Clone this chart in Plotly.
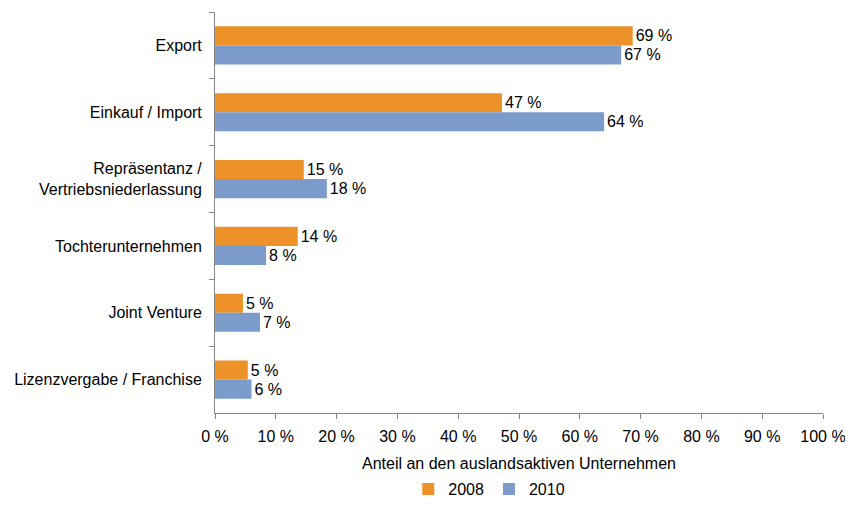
import plotly.graph_objects as go

categories = [
    "Export",
    "Einkauf / Import",
    "Repräsentanz /<br>Vertriebsniederlassung",
    "Tochterunternehmen",
    "Joint Venture",
    "Lizenzvergabe / Franchise",
]
values_2008 = [68.7, 47.2, 14.6, 13.6, 4.6, 5.4]
values_2010 = [66.8, 64.0, 18.4, 8.4, 7.4, 6.0]
x_ticks = list(range(0, 101, 10))

FONT = "Liberation Sans, Arial, sans-serif"
ORANGE = "#ED9228"
BLUE = "#7B9BCA"
AXIS_GREY = "#868686"

# page body has an 8px margin, so the figure is sized/placed to compensate
fig = go.Figure()
for name, vals, color in [("2008", values_2008, ORANGE), ("2010", values_2010, BLUE)]:
    fig.add_trace(
        go.Bar(
            name=name,
            y=categories,
            x=vals,
            orientation="h",
            marker={"color": color, "line": {"width": 0}},
            texttemplate="%{x:.0f} %",
            textposition="outside",
            textfont={"family": FONT, "size": 16, "color": "black"},
            constraintext="none",
            cliponaxis=False,
        )
    )

fig.update_layout(
    width=837,
    height=490,
    margin={"l": 207, "r": 22, "t": 4, "b": 85, "autoexpand": False},
    plot_bgcolor="white",
    paper_bgcolor="white",
    barmode="group",
    bargap=0.43,
    bargroupgap=0,
    font={"family": FONT, "size": 16, "color": "black"},
    legend={
        "orientation": "h",
        "x": 0.575,
        "xanchor": "center",
        "xref": "container",
        "y": 0.018,
        "yanchor": "middle",
        "yref": "container",
        "font": {"size": 16},
        "itemwidth": 30,
        "tracegroupgap": 0,
    },
    xaxis={
        "range": [0, 100],
        "tickvals": x_ticks,
        "ticktext": [f"{t} %" for t in x_ticks],
        "ticks": "outside",
        "ticklen": 5,
        "tickcolor": AXIS_GREY,
        "showline": True,
        "linecolor": AXIS_GREY,
        "linewidth": 1,
        "showgrid": False,
        "zeroline": False,
        "automargin": False,
        "ticklabeloverflow": "allow",
        "ticklabelstandoff": 4,
        "title": {"text": "Anteil an den auslandsaktiven Unternehmen", "standoff": 13, "font": {"size": 16}},
    },
    yaxis={
        "autorange": "reversed",
        "ticks": "outside",
        "tickson": "boundaries",
        "ticklen": 5,
        "tickcolor": AXIS_GREY,
        "showline": True,
        "linecolor": AXIS_GREY,
        "linewidth": 1,
        "showgrid": False,
        "automargin": False,
        "ticklabelstandoff": 9,
    },
)

fig.write_html("out.html")
